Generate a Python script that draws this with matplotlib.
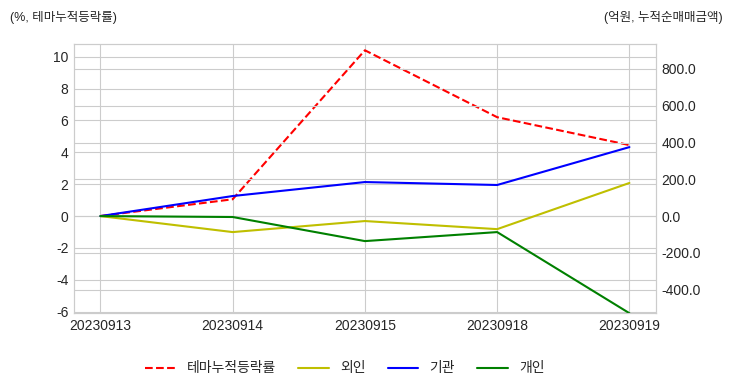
import matplotlib
matplotlib.use("Agg")
import matplotlib.pyplot as plt
import seaborn as sns

# ==============================
# Data
# ==============================
dates = ['20230913', '20230914', '20230915', '20230918', '20230919']
theme_rate = [0.0, 1.05, 10.4, 6.2, 4.45]      # % (left axis)
foreign = [0.0, -87, -27, -71, 180]            # 억원 (right axis)
institution = [0.0, 109, 185, 169, 375]
individual = [0.0, -5, -136, -87, -528]

sns.set_style("whitegrid")
plt.rcParams['font.family'] = ['Liberation Sans', 'Noto Sans CJK KR', 'DejaVu Sans']
plt.rcParams['axes.unicode_minus'] = False

fig = plt.figure(figsize=(7.32, 3.92), dpi=100)
ax = fig.add_axes([0.101, 0.201, 0.795, 0.687])
ax2 = ax.twinx()

x = range(len(dates))
l1, = ax.plot(x, theme_rate, color='red', linestyle='--', linewidth=1.5, label='테마누적등락률')
l2, = ax2.plot(x, foreign, color='y', linewidth=1.5, label='외인')
l3, = ax2.plot(x, institution, color='b', linewidth=1.5, label='기관')
l4, = ax2.plot(x, individual, color='g', linewidth=1.5, label='개인')

ax.set_xticks(list(x))
ax.set_xticklabels(dates)
ax.set_ylim(-6.1, 10.8)
ax.set_yticks([-6, -4, -2, 0, 2, 4, 6, 8, 10])
ax2.set_ylim(-528, 936)
ax2.set_yticks([-400, -200, 0, 200, 400, 600, 800])
ax2.set_yticklabels([f"{v:.1f}" for v in [-400, -200, 0, 200, 400, 600, 800]])

for a in (ax, ax2):
    a.tick_params(axis='both', labelsize=10, colors='.15', length=0, pad=4)
    for s in a.spines.values():
        s.set_color('.8')

fig.text(0.014, 0.955, '(%, 테마누적등락률)', fontsize=9, ha='left', va='center', color='.15')
fig.text(0.987, 0.955, '(억원, 누적순매매금액)', fontsize=9, ha='right', va='center', color='.15')

fig.legend(handles=[l1, l2, l3, l4], loc='center', bbox_to_anchor=(0.471, 0.06),
           ncol=4, frameon=False, fontsize=10, handlelength=2.2, columnspacing=1.6)

plt.savefig("out.png", dpi=100)
plt.close()
